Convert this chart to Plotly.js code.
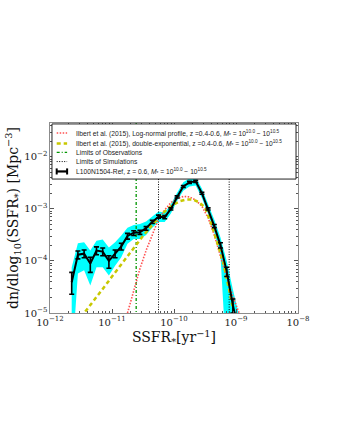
<!DOCTYPE html>
<html>
<head>
<meta charset="utf-8">
<script src="https://cdn.plot.ly/plotly-3.0.1.min.js"></script>
<style>
  html, body { margin: 0; padding: 0; background: #fff; }
  #chart { width: 340px; height: 440px; }
</style>
</head>
<body>
<div id="chart"></div>
<script>
// values, all in log10
// simulation, L100N1504-Ref
const logSSFR = [-11.65, -11.55, -11.45, -11.35, -11.25, -11.15, -11.05, -10.95, -10.85, -10.75,
                 -10.65, -10.55, -10.45, -10.35, -10.25, -10.15, -10.05, -9.95, -9.85, -9.75,
                 -9.65, -9.55, -9.45, -9.35, -9.25, -9.15, -9.05, -8.95];
const logPhiSim = [-4.41, -3.88, -3.86, -4.05, -3.80, -3.82, -4.00, -3.86, -3.72, -3.52,
                   -3.46, -3.45, -3.37, -3.25, -3.15, -3.16, -3.00, -2.77, -2.57, -2.49,
                   -2.47, -2.70, -3.00, -3.33, -3.70, -4.20, -4.85, -5.40];
const errUpDex = [0.19, 0.07, 0.07, 0.12, 0.07, 0.07, 0.10, 0.07, 0.06, 0.05,
                  0.04, 0.04, 0.03, 0.03, 0.03, 0.03, 0.02, 0.02, 0.02, 0.02,
                  0.02, 0.02, 0.02, 0.03, 0.05, 0.08, 0.12, 0.15];
const errDownDex = [0.23, 0.08, 0.08, 0.17, 0.08, 0.08, 0.14, 0.08, 0.07, 0.06,
                    0.05, 0.04, 0.04, 0.03, 0.03, 0.03, 0.02, 0.02, 0.02, 0.02,
                    0.02, 0.02, 0.02, 0.03, 0.05, 0.10, 0.15, 0.20];
// cyan band
const bandUpper = [-4.12, -3.66, -3.64, -3.80, -3.61, -3.59, -3.74, -3.64, -3.51, -3.36,
                   -3.31, -3.29, -3.24, -3.14, -3.05, -3.07, -2.91, -2.69, -2.49, -2.41,
                   -2.39, -2.61, -2.90, -3.21, -3.55, -4.00, -4.55, -5.05];
const bandLower = [-6.0, -4.24, -4.18, -4.47, -4.12, -4.12, -4.28, -4.09, -3.93, -3.67,
                   -3.58, -3.58, -3.50, -3.36, -3.25, -3.25, -3.09, -2.85, -2.65, -2.57,
                   -2.55, -2.79, -3.10, -3.45, -3.90, -6.0, -6.0, -6.0];

// Ilbert et al. (2015) log-normal
const logSSFRLogN = [-10.75, -10.65, -10.55, -10.45, -10.35, -10.25, -10.15, -10.05, -9.95, -9.85,
                     -9.75, -9.65, -9.55, -9.45, -9.35, -9.25, -9.15, -9.05, -8.95];
const logPhiLogN = [-5.0, -4.55, -4.15, -3.80, -3.48, -3.20, -3.02, -2.88, -2.80, -2.76,
                    -2.77, -2.83, -2.95, -3.17, -3.50, -3.92, -4.32, -4.68, -5.00];

// Ilbert et al. (2015) double exponential
const logSSFRDExp = [-11.5, -11.4, -11.3, -11.2, -11.1, -11.0, -10.9, -10.8, -10.7, -10.6,
                     -10.5, -10.4, -10.3, -10.2, -10.1, -10.0, -9.9, -9.8, -9.7, -9.6,
                     -9.5, -9.4, -9.3, -9.2, -9.1, -9.0];
const logPhiDExp = [-5.08, -4.93, -4.78, -4.62, -4.46, -4.30, -4.14, -3.98, -3.82, -3.66,
                    -3.52, -3.38, -3.24, -3.10, -3.00, -2.91, -2.85, -2.82, -2.82, -2.87,
                    -2.97, -3.28, -3.66, -4.05, -4.62, -5.2];

// vertical limits
const obsLimit = [-10.61];
const simLimits = [-10.25, -9.11];

const mass = '<i>M</i><sub>*</sub> = 10<sup>10.0</sup> − 10<sup>10.5</sup>';
const legendLabels = [
  'Ilbert et al. (2015), Log-normal profile, z =0.4-0.6, ' + mass,
  'Ilbert et al. (2015), double-exponential, z =0.4-0.6, ' + mass,
  'Limits of Observations',
  'Limits of Simulations',
  'L100N1504-Ref, z = 0.6, ' + mass
];

const colRed = 'rgb(255,80,80)', colYel = 'rgb(200,200,0)', colGreen = 'rgb(0,150,0)';
const dashRed = '1.5px,1.5px', dashYel = '4px,3px', dashGreen = '3px,2px,1px,2px', dashBlk = '1px,1.5px';

const p10 = v => Math.pow(10, v);
const x = logSSFR.map(p10);
const y = logPhiSim.map(p10);
const errUp = y.map((v, i) => v * (p10(errUpDex[i]) - 1));
const errDown = y.map((v, i) => v * (1 - p10(-errDownDex[i])));

const band = {
  x: x.concat(x.slice().reverse()),
  y: bandUpper.map(p10).concat(bandLower.map(p10).reverse()),
  fill: 'toself', fillcolor: 'rgb(0,255,255)',
  line: {width: 0}, mode: 'lines', hoverinfo: 'skip'
};

const logNormal = {
  x: logSSFRLogN.map(p10), y: logPhiLogN.map(p10), mode: 'lines',
  line: {color: colRed, width: 1.6, dash: dashRed}
};

const dblExp = {
  x: logSSFRDExp.map(p10), y: logPhiDExp.map(p10), mode: 'lines',
  line: {color: colYel, width: 2.5, dash: dashYel}
};

const obsLine = {
  x: [p10(obsLimit[0]), p10(obsLimit[0])], y: [1e-6, 1], mode: 'lines',
  line: {color: colGreen, width: 1.3, dash: dashGreen}
};

const simLines = simLimits.map(v => ({
  x: [p10(v), p10(v)], y: [1e-6, 1], mode: 'lines',
  line: {color: 'black', width: 1, dash: dashBlk}
}));

const sim = {
  x: x, y: y, mode: 'lines',
  line: {color: 'black', width: 2},
  error_y: {type: 'data', symmetric: false, array: errUp, arrayminus: errDown,
            color: 'black', thickness: 1.6, width: 2.5}
};

// legend drawn by hand (matplotlib-like compact box)
const legX0 = 0.008, legX1 = 0.992, legY0 = 0.705, legY1 = 0.995;
const rowY = [0.947, 0.892, 0.845, 0.797, 0.745];
const symX0 = 0.027, symX1 = 0.069, textX = 0.098;
const shapes = [
  {type: 'rect', xref: 'paper', yref: 'paper', x0: legX0, x1: legX1, y0: legY0, y1: legY1,
   fillcolor: 'white', line: {color: '#222', width: 1}, layer: 'above'}
];
const symStyles = [
  {color: colRed, width: 1.6, dash: dashRed},
  {color: colYel, width: 2.5, dash: dashYel},
  {color: colGreen, width: 1.3, dash: dashGreen},
  {color: 'black', width: 1, dash: dashBlk},
  {color: 'black', width: 2.2}
];
symStyles.forEach((s, i) => {
  shapes.push({type: 'line', xref: 'paper', yref: 'paper', x0: symX0, x1: symX1,
               y0: rowY[i], y1: rowY[i], line: s, layer: 'above'});
});
// caps of the error-bar symbol
[symX0, symX1].forEach(cx => {
  shapes.push({type: 'line', xref: 'paper', yref: 'paper', x0: cx, x1: cx,
               y0: rowY[4] - 0.016, y1: rowY[4] + 0.016,
               line: {color: 'black', width: 2}, layer: 'above'});
});
const annotations = legendLabels.map((t, i) => ({
  xref: 'paper', yref: 'paper', x: textX, y: rowY[i], xanchor: 'left', yanchor: 'middle',
  text: t, showarrow: false, font: {family: 'Liberation Sans', size: 6.7, color: '#222'}
}));

const axisCommon = {
  type: 'log', showgrid: false, zeroline: false,
  showline: true, linecolor: '#8c8c8c', linewidth: 1, mirror: 'ticks',
  ticks: 'inside', ticklen: 4, tickcolor: '#555', dtick: 1,
  exponentformat: 'power',
  tickfont: {family: 'DejaVu Serif', size: 8, color: '#222'},
  minor: {ticks: 'inside', ticklen: 2, tickcolor: '#555', dtick: 'D1'}
};

const layout = {
  width: 340, height: 440,
  margin: {l: 50, r: 42, t: 123, b: 127},
  paper_bgcolor: 'white', plot_bgcolor: 'white',
  showlegend: false,
  shapes: shapes,
  annotations: annotations,
  xaxis: Object.assign({}, axisCommon, {
    range: [-12, -8],
    title: {text: 'SSFR<sub>*</sub>[yr<sup>−1</sup>]', font: {family: 'DejaVu Serif', size: 14, color: '#111'}, standoff: 0}
  }),
  yaxis: Object.assign({}, axisCommon, {
    range: [-5, -1.35],
    title: {text: 'dn/dlog<sub>10</sub>(SSFR<sub>*</sub>) [Mpc<sup>−3</sup>]', font: {family: 'DejaVu Serif', size: 14, color: '#111'}, standoff: 2}
  })
};

Plotly.newPlot('chart', [band, obsLine].concat(simLines, [logNormal, dblExp, sim]), layout,
               {displayModeBar: false, staticPlot: true});
</script>
</body>
</html>
